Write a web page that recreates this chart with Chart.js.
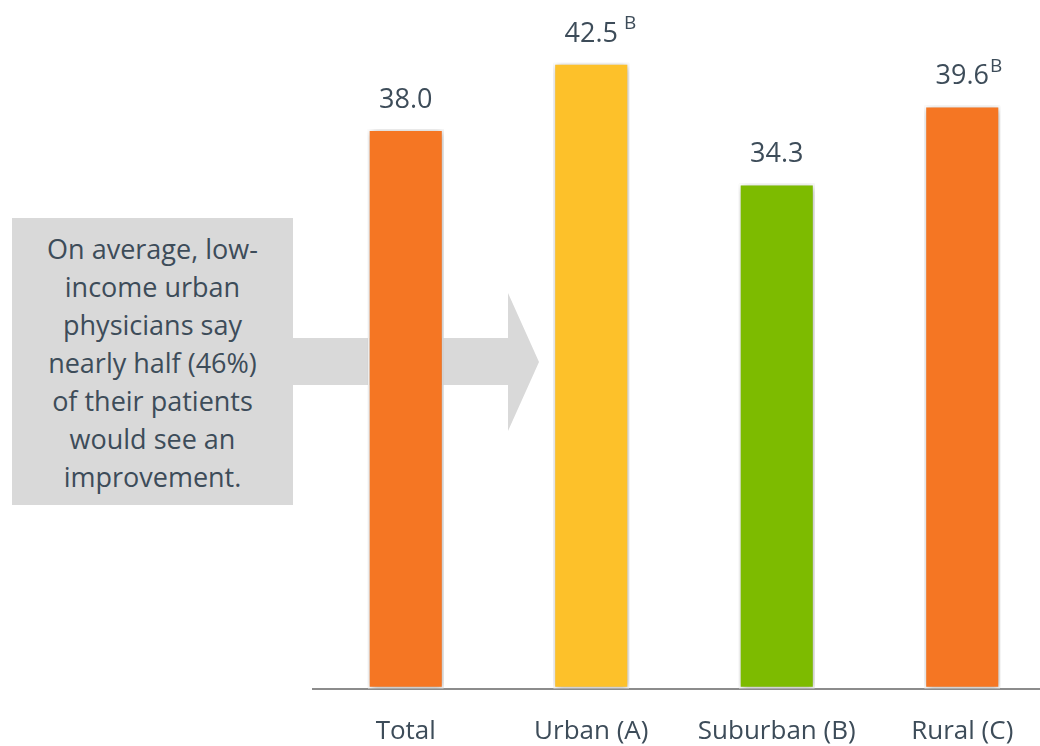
<!DOCTYPE html>
<html>
<head>
<meta charset="utf-8">
<script src="https://cdn.jsdelivr.net/npm/chart.js@4/dist/chart.umd.min.js"></script>
<style>
  html, body { margin: 0; padding: 0; background: #fff; overflow: hidden; }
  #wrap { position: relative; width: 1040px; height: 746px; overflow: hidden; }
  #box { position: absolute; width: 1060px; height: 774px; left: 0; top: 0; }
  #callout {
    position: absolute; left: 12px; top: 218px; width: 281px; height: 287px;
    background: #d9d9d9; color: #3d4c59;
    font-family: "Open Sans", sans-serif; font-size: 27px; line-height: 38px;
    text-align: center; display: flex; align-items: center; justify-content: center;
  }
</style>
</head>
<body>
<div id="wrap">
  <div id="box"><canvas id="chart" width="1060" height="774"></canvas></div>
  <div id="callout"><div style="margin-top:3px">On average, low-<br>income urban<br>physicians say<br>nearly half (46%)<br>of their patients<br>would see an<br>improvement.</div></div>
</div>
<script>
// ---- data ----
const categories = ['Total', 'Urban (A)', 'Suburban (B)', 'Rural (C)'];
const values = [38.0, 42.5, 34.3, 39.6];
const sigLetters = ['', ' B', '', 'B'];
const barColors = ['#f57623', '#fdc12a', '#7dbb00', '#f57623'];

const TEXT = '#3d4c59';

// gray arrow behind the bars
const arrowPlugin = {
  id: 'arrow',
  beforeDatasetsDraw(chart) {
    const ctx = chart.ctx;
    ctx.save();
    ctx.fillStyle = '#d9d9d9';
    ctx.beginPath();
    ctx.moveTo(293, 338);
    ctx.lineTo(508, 338);
    ctx.lineTo(508, 293);
    ctx.lineTo(539, 362);
    ctx.lineTo(508, 431);
    ctx.lineTo(508, 385);
    ctx.lineTo(293, 385);
    ctx.closePath();
    ctx.fill();
    ctx.restore();
  }
};

// soft shadow around bars
const shadowPlugin = {
  id: 'barShadow',
  beforeDatasetDraw(chart) {
    const ctx = chart.ctx;
    ctx.save();
    ctx.shadowColor = 'rgba(0,0,0,0.35)';
    ctx.shadowBlur = 7;
    ctx.shadowOffsetX = 1;
    ctx.shadowOffsetY = 1;
  },
  afterDatasetDraw(chart) {
    chart.ctx.restore();
  }
};

// value labels with superscript letters
const labelPlugin = {
  id: 'valueLabels',
  afterDatasetsDraw(chart) {
    const ctx = chart.ctx;
    const meta = chart.getDatasetMeta(0);
    ctx.save();
    ctx.fillStyle = TEXT;
    meta.data.forEach((bar, i) => {
      const txt = values[i].toFixed(1);
      const y = bar.y - 29;
      ctx.font = '27px "Open Sans", sans-serif';
      ctx.textAlign = 'center';
      ctx.textBaseline = 'middle';
      ctx.fillText(txt, bar.x, y);
      const w = ctx.measureText(txt).width;
      if (sigLetters[i]) {
        ctx.font = '19px "Open Sans", sans-serif';
        ctx.textAlign = 'left';
        ctx.fillText(sigLetters[i], bar.x + w / 2 + 1, y - 10);
      }
    });
    ctx.restore();
  }
};

new Chart(document.getElementById('chart'), {
  type: 'bar',
  data: {
    labels: categories,
    datasets: [{
      data: values,
      backgroundColor: barColors,
      borderColor: '#ffffff',
      borderWidth: 2,
      borderSkipped: false,
      barPercentage: 0.41,
      categoryPercentage: 1
    }]
  },
  options: {
    responsive: false,
    animation: false,
    layout: { padding: { left: 313, right: 5, top: 26, bottom: 0 } },
    plugins: { legend: { display: false }, tooltip: { enabled: false } },
    scales: {
      x: {
        grid: { display: false, drawTicks: false },
        border: { display: true, color: '#8c8c8c', width: 2 },
        ticks: { color: TEXT, padding: 27, font: { family: '"Open Sans", sans-serif', size: 26 } }
      },
      y: {
        display: false,
        min: 0,
        max: 45
      }
    }
  },
  plugins: [arrowPlugin, shadowPlugin, labelPlugin]
});
</script>
</body>
</html>
